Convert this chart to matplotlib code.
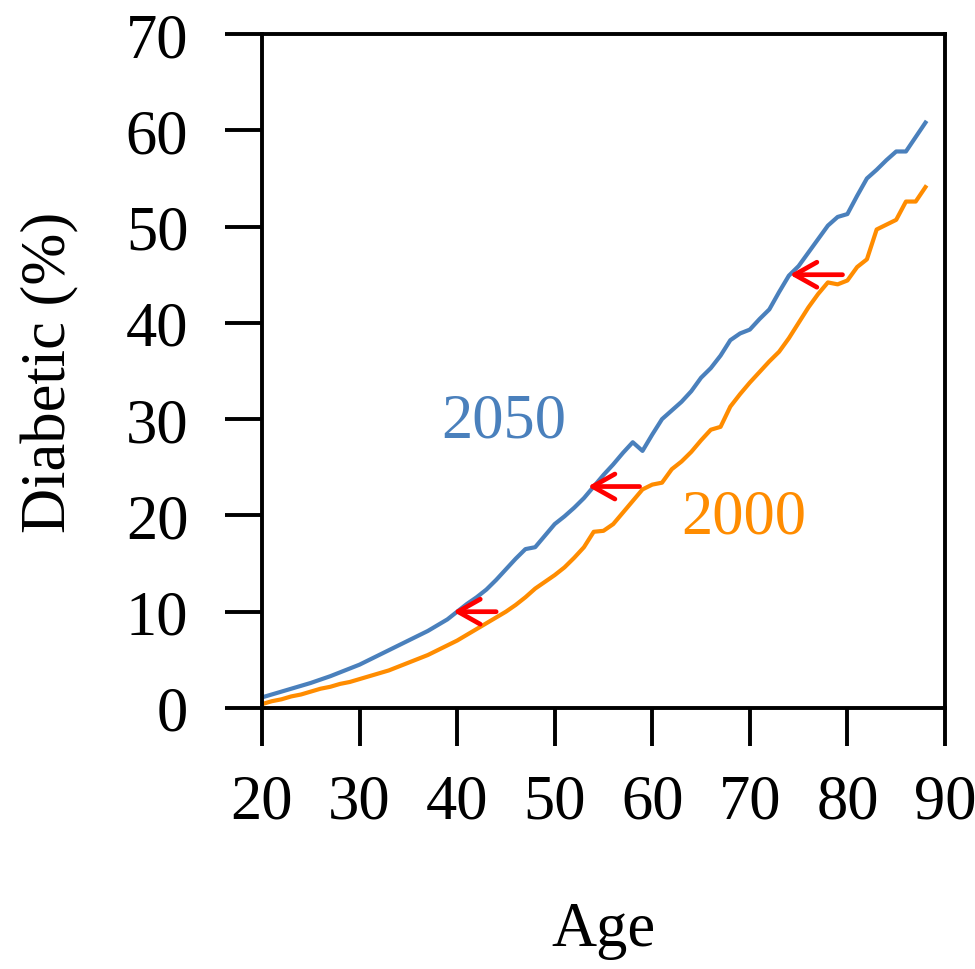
import matplotlib
matplotlib.use("Agg")
import matplotlib.pyplot as plt

# Share of the population with diabetes by single year of age
ages = list(range(20, 89))
diabetic_2050 = [
    1.1, 1.4, 1.7, 2.0, 2.3, 2.6, 2.95, 3.3, 3.7, 4.1,
    4.5, 5.0, 5.5, 6.0, 6.5, 7.0, 7.5, 8.0, 8.6, 9.2,
    10.0, 10.8, 11.5, 12.3, 13.3, 14.4, 15.5, 16.5, 16.7, 17.9,
    19.1, 19.9, 20.8, 21.8, 23.0, 24.2, 25.3, 26.5, 27.6, 26.7,
    28.4, 30.0, 30.9, 31.8, 32.9, 34.3, 35.3, 36.6, 38.2, 38.9,
    39.3, 40.4, 41.4, 43.2, 44.9, 45.9, 47.3, 48.7, 50.1, 51.0,
    51.3, 53.2, 55.0, 55.9, 56.9, 57.8, 57.8, 59.3, 60.8,
]
diabetic_2000 = [
    0.4, 0.7, 0.9, 1.2, 1.4, 1.7, 2.0, 2.2, 2.5, 2.7,
    3.0, 3.3, 3.6, 3.9, 4.3, 4.7, 5.1, 5.5, 6.0, 6.5,
    7.0, 7.6, 8.2, 8.8, 9.4, 10.0, 10.7, 11.5, 12.4, 13.1,
    13.8, 14.6, 15.6, 16.7, 18.3, 18.4, 19.1, 20.3, 21.5, 22.7,
    23.2, 23.4, 24.8, 25.6, 26.6, 27.8, 28.9, 29.2, 31.3, 32.6,
    33.8, 34.9, 36.0, 37.0, 38.4, 40.0, 41.6, 43.0, 44.2, 44.0,
    44.4, 45.8, 46.6, 49.7, 50.2, 50.7, 52.6, 52.6, 54.1,
]

# Horizontal shifts: (level, age in 2000, age in 2050)
shift_levels = [10, 23, 45]
shift_from = [44.0, 58.7, 79.5]
shift_to = [39.6, 53.4, 74.1]

x_ticks = [20, 30, 40, 50, 60, 70, 80, 90]
y_ticks = [0, 10, 20, 30, 40, 50, 60, 70]

blue = "#4A80BC"
orange = "#FF8C00"

plt.rcParams["font.family"] = ["Liberation Serif", "DejaVu Serif"]
fs = 45

fig = plt.figure(figsize=(9.75, 9.7), dpi=100)
ax = fig.add_axes([0.2687, 0.2691, 0.9692 - 0.2687, 0.9639 - 0.2691])

ax.plot(ages, diabetic_2050, color=blue, lw=3.0, solid_joinstyle="round")
ax.plot(ages, diabetic_2000, color=orange, lw=3.0, solid_joinstyle="round")

for lvl, x0, x1 in zip(shift_levels, shift_from, shift_to):
    ax.annotate("", xy=(x1, lvl), xytext=(x0, lvl),
                arrowprops=dict(arrowstyle="->,head_length=0.8,head_width=0.45",
                                color="red", lw=3.4, mutation_scale=20,
                                shrinkA=0, shrinkB=0))

ax.text(44.8, 29.8, "2050", color=blue, fontsize=fs, ha="center", va="center")
ax.text(69.4, 19.8, "2000", color=orange, fontsize=fs, ha="center", va="center")

ax.set_xlim(20, 90)
ax.set_ylim(0, 70)
ax.set_xticks(x_ticks)
ax.set_yticks(y_ticks)
ax.tick_params(axis="both", direction="out", length=27, width=2.8,
               labelsize=fs, pad=20)
ax.tick_params(axis="y", pad=26)
for sp in ax.spines.values():
    sp.set_linewidth(2.8)

ax.set_xlabel("Age", fontsize=fs, labelpad=50)
ax.set_ylabel("Diabetic (%)", fontsize=fs, labelpad=33)

fig.savefig("out.png", dpi=100)
